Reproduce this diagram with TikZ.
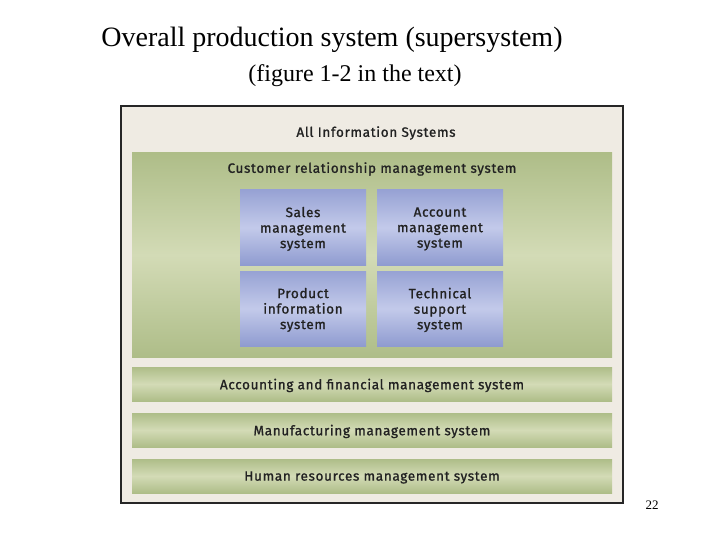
\documentclass[tikz,border=0pt]{standalone}
\usepackage{fontspec}
\setmainfont{Liberation Serif}
\newfontfamily\panelfont[LetterSpace=5,FakeBold=1.2]{Fira Sans}
\definecolor{framefill}{HTML}{EFEBE3}
\definecolor{greendark}{HTML}{AEBD88}
\definecolor{greenlight}{HTML}{D3DBB6}
\definecolor{bluedark}{HTML}{8F9BD0}
\definecolor{bluelight}{HTML}{C3CAEA}
\definecolor{inktext}{HTML}{222222}
\begin{document}
\begin{tikzpicture}[x=1pt,y=-1pt,
    paneltext/.style={font=\panelfont\fontsize{13.5}{15.5}\selectfont,text=inktext},
    bar/.style={paneltext,minimum width=480pt,minimum height=34pt,inner sep=0pt,
      text depth=-1pt,top color=greendark,bottom color=greendark,middle color=greenlight},
    subsys/.style={paneltext,minimum width=126pt,minimum height=75pt,inner sep=0pt,
      text depth=-3.4pt,top color=bluedark!85!bluelight,bottom color=bluedark,
      middle color=bluelight,align=center}]
  \useasboundingbox (0,0) rectangle (720,540);

  % Titles
  \node (title) at (332,40) {\fontsize{28}{32}\selectfont Overall production system (supersystem)};
  \node (subtitle) at (355,76) {\fontsize{24}{28}\selectfont (figure 1-2 in the text)};

  % Outer frame
  \draw[line width=2pt,draw=black!85,fill=framefill] (121,106) rectangle (623,503);
  \node[paneltext] (allsys) at (376,133) {All Information Systems};

  % Customer relationship panel
  \shade[top color=greendark,bottom color=greendark,middle color=greenlight] (132,153) rectangle (612,357);
  \node[paneltext] (crm) at (372,169) {Customer relationship management system};

  % Sub-systems
  \node[subsys] (sales) at (303,227.5) {Sales\\management\\system};
  \node[subsys] (account) at (440,227.5) {Account\\management\\system};
  \node[subsys] (product) at (303,308.5) {Product\\information\\system};
  \node[subsys] (support) at (440,308.5) {Technical\\support\\system};

  % Other systems
  \node[bar] (accounting) at (372,384) {Accounting and financial management system};
  \node[bar] (manufacturing) at (372,430) {Manufacturing management system};
  \node[bar] (hr) at (372,476) {Human resources management system};

  % Page number
  \node[font=\fontsize{13}{15}\selectfont] (page) at (652,505) {22};
\end{tikzpicture}
\end{document}
